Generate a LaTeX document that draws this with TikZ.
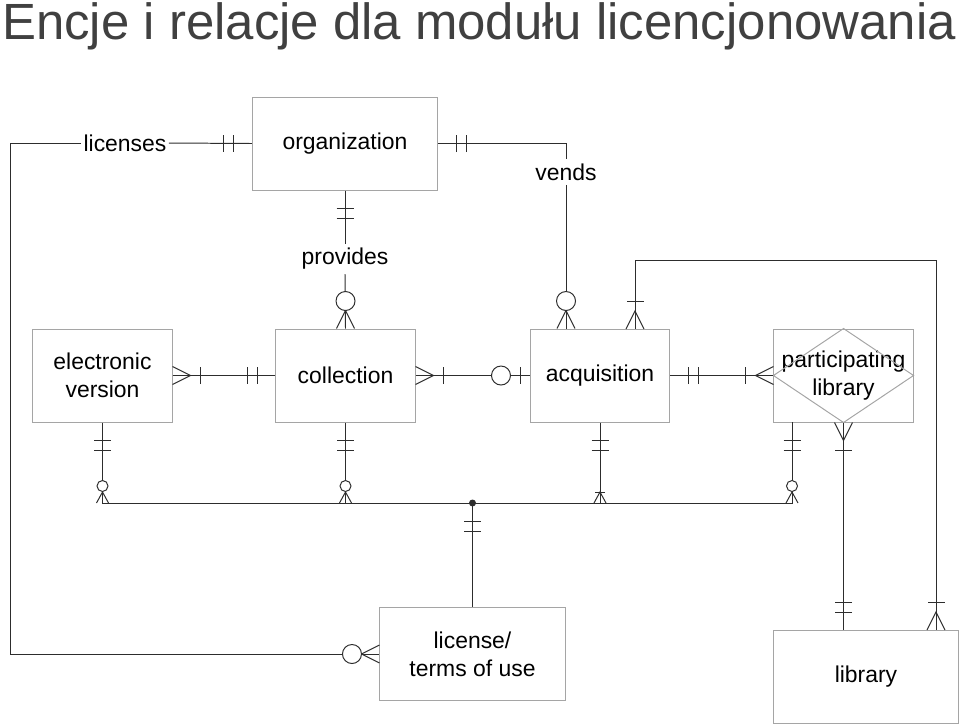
\documentclass[tikz,border=0pt]{standalone}
\usepackage{fontspec}
\setmainfont{Liberation Sans}
\usepackage{tikz}
\usetikzlibrary{positioning, calc}
\definecolor{boxgray}{RGB}{165,165,165}
\definecolor{linegray}{RGB}{45,45,45}
\definecolor{titlegray}{RGB}{64,64,64}
\tikzset{
  entity/.style={rectangle, draw=boxgray, line width=0.7pt, minimum width=3.475cm, minimum height=2.325cm, text centered, align=center, inner sep=0pt, font=\fontsize{16.3}{20}\selectfont},
  wide/.style={minimum width=4.625cm},
  relation/.style={inner xsep=1.5pt, inner ysep=3pt, font=\fontsize{16.3}{20}\selectfont},
  link/.style={draw=linegray, line width=0.7pt},
  pics/onemany/.style={code={\draw[link] (0,9) -- (18,0) -- (0,-9); \draw[link] (28,-8.5) -- (28,8.5);}},
  pics/zeromany/.style={code={\draw[link] (0,9) -- (18,0) -- (0,-9); \draw[link, fill=white] (27.5,0) circle (9.5);}},
  pics/oneone/.style={code={\draw[link] (18,-8.5) -- (18,8.5) (28,-8.5) -- (28,8.5);}},
  pics/zeroone/.style={code={\draw[link] (10,-8.5) -- (10,8.5); \draw[link, fill=white] (29,0) circle (9.5);}},
  pics/zeromanysm/.style={code={\draw[link] (0,6) -- (11,0) -- (0,-6); \draw[link, fill=white] (17,0) circle (5.5);}},
  pics/onemanysm/.style={code={\draw[link] (0,6) -- (11,0) -- (0,-6); \draw[link] (11,-5) -- (11,5);}}
}
\begin{document}
\begin{tikzpicture}[x=0.025cm, y=0.025cm]
\useasboundingbox (0,0) rectangle (960,-726);
\node (title) [anchor=base west, inner sep=0pt, text=titlegray, font=\fontsize{36.2}{40}\selectfont] at (2,-39) {Encje i relacje dla modułu licencjonowania};

% encje
\node (org) [entity, wide] at (345,-143.5) {organization};
\node (elver) [entity] at (102.5,-375.5) {electronic\\version};
\node (coll) [entity] at (345.5,-375.5) {collection};
\node (acq) [entity] at (600,-375.5) {acquisition};
\node (partlib) [entity] at (843.5,-375.5) {participating\\library};
\node (terms) [entity, wide] at (472.5,-654) {license/\\terms of use};
\node (lib) [entity, wide] at (866,-677) {library};
\draw[boxgray, line width=0.7pt] (partlib.north) -- (partlib.east) -- (partlib.south) -- (partlib.west) -- cycle;

% relacje
\node (licenses) [relation] at (125,-143) {licenses};
\node (vends) [relation] at (566,-172) {vends};
\node (provides) [relation] at (345,-259) {provides};

\coordinate (lcorner) at (10,-143);
\coordinate (acqR) at (635,-329);
\coordinate (loopR) at (936,-260);
\coordinate (libR) at (lib.north -| loopR);
\coordinate (plB) at (792,-422);
\coordinate (hub) at (472.5,-503);

\draw[link] (org.west) -- (licenses.east);
\draw[link] (licenses.west) -- (lcorner) |- (terms.west);
\draw[link] (org.east) -| (vends.north);
\draw[link] (vends.south) -- (vends.south |- acq.north);
\draw[link] (org.south) -- (provides.north);
\draw[link] (provides.south) -- (coll.north);
\draw[link] (elver.east) -- (coll.west);
\draw[link] (coll.east) -- (acq.west);
\draw[link] (acq.east) -- (partlib.west);
\draw[link] (acqR) |- (loopR) -- (libR);
\draw[link] (partlib.south) -- (lib.north -| partlib.south);

% szyna
\draw[link] (elver.south) -- (elver.south |- hub) -- (plB |- hub) -- (plB);
\draw[link] (coll.south) -- (coll.south |- hub);
\draw[link] (acq.south) -- (acq.south |- hub);
\draw[link] (hub) -- (terms.north);
\fill[linegray] (hub) circle (3.5);

% krotnosci
\pic[rotate=180] at (org.west) {oneone};
\pic at (org.east) {oneone};
\pic[rotate=-90] at (org.south) {oneone};
\pic[rotate=90] at (coll.north) {zeromany};
\pic[rotate=90] at (vends.south |- acq.north) {zeromany};
\pic[rotate=90] at (acqR) {onemany};
\pic at (elver.east) {onemany};
\pic[rotate=180] at (coll.west) {oneone};
\pic at (coll.east) {onemany};
\pic[rotate=180] at (acq.west) {zeroone};
\pic at (acq.east) {oneone};
\pic[rotate=180] at (partlib.west) {onemany};
\pic[rotate=-90] at (partlib.south) {onemany};
\pic[rotate=90] at (lib.north -| partlib.south) {oneone};
\pic[rotate=90] at (libR) {onemany};
\pic[rotate=180] at (terms.west) {zeromany};
\pic[rotate=-90] at (hub) {oneone};
\pic[rotate=-90] at (elver.south) {oneone};
\pic[rotate=-90] at (coll.south) {oneone};
\pic[rotate=-90] at (acq.south) {oneone};
\pic[rotate=-90] at (plB) {oneone};
\pic[rotate=90] at (elver.south |- hub) {zeromanysm};
\pic[rotate=90] at (coll.south |- hub) {zeromanysm};
\pic[rotate=90] at (acq.south |- hub) {onemanysm};
\pic[rotate=90] at (plB |- hub) {zeromanysm};
\end{tikzpicture}
\end{document}
